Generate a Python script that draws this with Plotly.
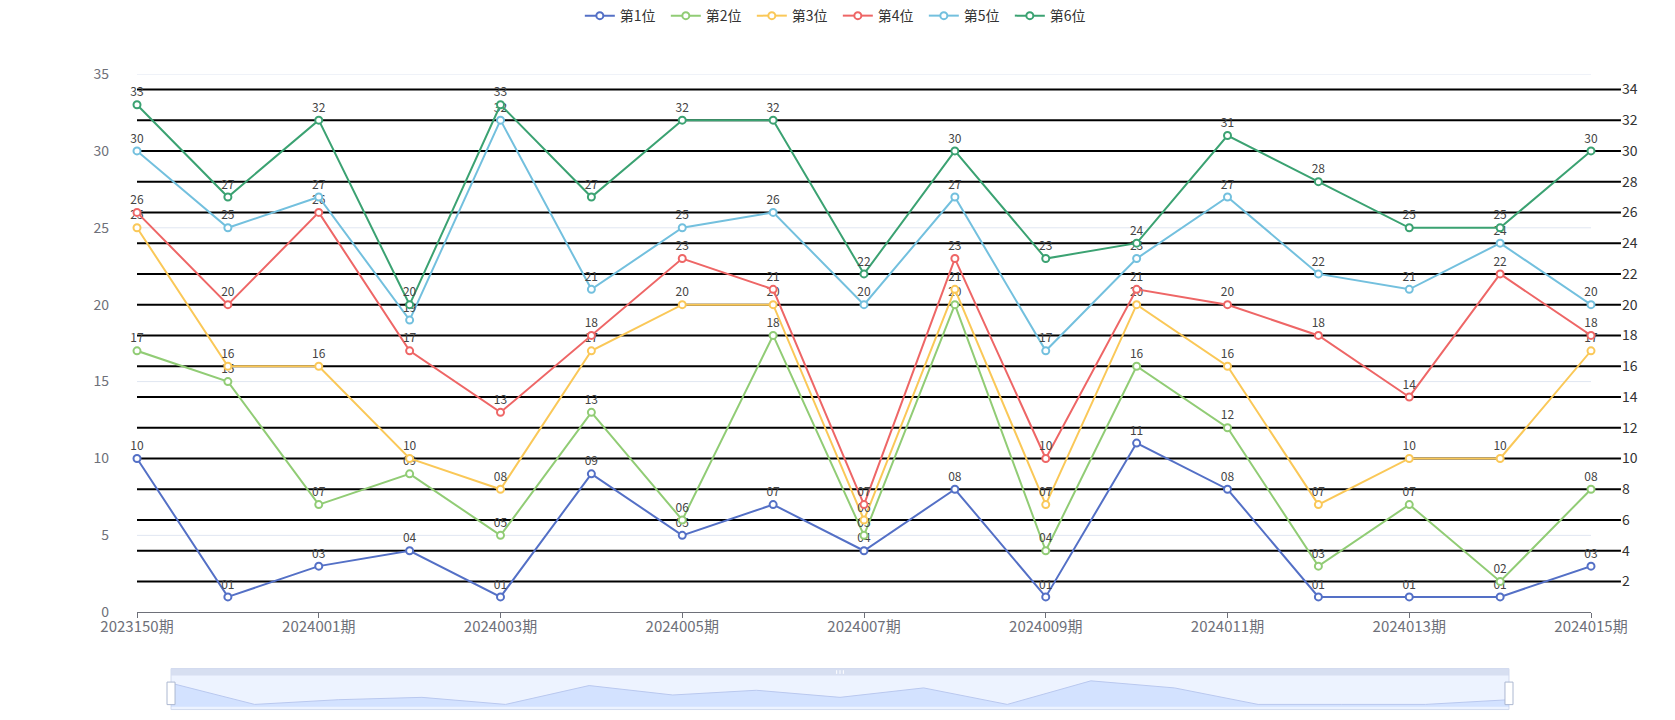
import plotly.graph_objects as go

categories = ["2023150期", "2023151期"] + [f"2024{n:03d}期" for n in range(1, 16)]

s1 = [10, 1, 3, 4, 1, 9, 5, 7, 4, 8, 1, 11, 8, 1, 1, 1, 3]
s2 = [17, 15, 7, 9, 5, 13, 6, 18, 5, 20, 4, 16, 12, 3, 7, 2, 8]
s3 = [25, 16, 16, 10, 8, 17, 20, 20, 6, 21, 7, 20, 16, 7, 10, 10, 17]
s4 = [26, 20, 26, 17, 13, 18, 23, 21, 7, 23, 10, 21, 20, 18, 14, 22, 18]
s5 = [30, 25, 27, 19, 32, 21, 25, 26, 20, 27, 17, 23, 27, 22, 21, 24, 20]
s6 = [33, 27, 32, 20, 33, 27, 32, 32, 22, 30, 23, 24, 31, 28, 25, 25, 30]

names = ["第1位", "第2位", "第3位", "第4位", "第5位", "第6位"]
colors = ["#5470c6", "#91cc75", "#fac858", "#ee6666", "#73c0de", "#3ba272"]
series = [s1, s2, s3, s4, s5, s6]

left_ticks = list(range(0, 36, 5))
right_ticks = list(range(2, 35, 2))

FONT = "Noto Sans CJK SC"

fig = go.Figure()
for name, col, vals in zip(names, colors, series):
    fig.add_trace(go.Scatter(
        x=categories, y=vals, name=name, mode="lines+markers+text",
        text=[f"{v:02d}" for v in vals], textposition="top center",
        textfont=dict(size=12, color="#444", family=FONT),
        line=dict(color=col, width=2),
        marker=dict(symbol="circle", size=7, color="white",
                    line=dict(color=col, width=2)),
        cliponaxis=False,
    ))

# slider shadow
fig.add_trace(go.Scatter(
    x=categories, y=s1, xaxis="x3", yaxis="y3", mode="lines",
    fill="tozeroy", fillcolor="rgba(135,175,254,0.25)",
    line=dict(color="#b9c8ef", width=1), showlegend=False, hoverinfo="skip",
))

shapes = []
# light left-axis gridlines (only where no black right-axis line lies)
for t in left_ticks:
    if t != 0 and t not in right_ticks:
        shapes.append(dict(type="line", xref="paper", yref="y", x0=0, x1=1,
                           y0=t, y1=t, line=dict(color="#e0e6f1", width=1), layer="below"))
# black right-axis gridlines
for t in right_ticks:
    shapes.append(dict(type="line", xref="paper", yref="y2", x0=0, x1=1.0206,
                       y0=t, y1=t, line=dict(color="black", width=2), layer="below"))
# slider body
shapes.append(dict(type="rect", xref="x3 domain", yref="y3 domain", x0=0, x1=1, y0=0, y1=1,
                   fillcolor="rgba(135,175,254,0.15)", line=dict(color="#d2dbee", width=1),
                   layer="below"))
shapes.append(dict(type="rect", xref="x3 domain", yref="y3 domain", x0=0, x1=1, y0=0.83, y1=1,
                   fillcolor="rgba(210,219,238,0.85)", line=dict(width=0)))
for dx in (-0.0025, 0, 0.0025):
    shapes.append(dict(type="line", xref="x3 domain", yref="y3 domain",
                       x0=0.5 + dx, x1=0.5 + dx, y0=0.87, y1=0.96,
                       line=dict(color="#ffffff", width=1)))
for hx in (0, 1):
    shapes.append(dict(type="rect", xref="x3 domain", yref="y3 domain",
                       x0=hx - 0.003, x1=hx + 0.003, y0=0.12, y1=0.67,
                       fillcolor="white", line=dict(color="#acb8d1", width=1)))

fig.update_layout(
    width=1675, height=720,
    margin=dict(l=137, r=84, t=67, b=0),
    plot_bgcolor="white", paper_bgcolor="white",
    font=dict(family=FONT, color="#333"),
    showlegend=True,
    legend=dict(orientation="h", x=0.482, xanchor="center", y=1.091, yanchor="middle",
                font=dict(size=14, color="#333", family=FONT),
                entrywidth=41, entrywidthmode="pixels"),
    xaxis=dict(type="category", categoryarray=categories, range=[0, 16],
               tickvals=categories[::2], ticks="outside", ticklen=5,
               tickcolor="#6e7079", showline=True, linecolor="#6e7079", linewidth=1,
               showgrid=False, tickfont=dict(size=15, color="#6e7079"),
               ticklabelstandoff=-4, anchor="y"),
    yaxis=dict(domain=[0.155, 1], range=[0, 35], tickvals=left_ticks,
               showgrid=False, zeroline=False, showline=False,
               tickfont=dict(size=14, color="#6e7079"), ticklabelstandoff=27),
    yaxis2=dict(overlaying="y", side="right", range=[0, 35], tickvals=right_ticks,
                showgrid=False, zeroline=False, showline=False,
                tickfont=dict(size=14, color="#333"), ticklabelstandoff=30),
    xaxis3=dict(domain=[0.0234, 0.9436], anchor="y3", range=[0, 16], visible=False,
                type="category", categoryarray=categories),
    yaxis3=dict(domain=[0.0023, 0.0666], anchor="x3", range=[-1.17, 16.2], visible=False),
    shapes=shapes,
)

fig.write_html("out.html", config={"displayModeBar": False},
               post_script="document.body.style.margin='0px';")
